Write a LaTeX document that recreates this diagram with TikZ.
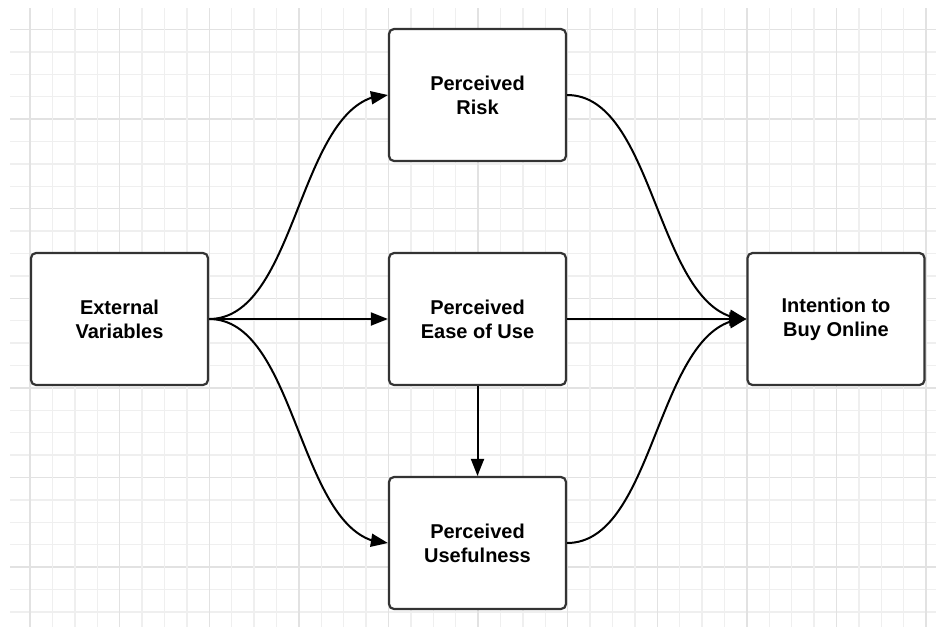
\documentclass[tikz,border=0pt]{standalone}
\usepackage{fontspec}
\setmainfont{Liberation Sans}
\usetikzlibrary{arrows.meta,bending}
\definecolor{gridminor}{HTML}{EFEFEF}
\definecolor{gridmajor}{HTML}{E2E2E2}
\definecolor{boxline}{HTML}{333333}
\begin{document}
\begin{tikzpicture}[x=1pt,y=-1pt,
  box/.style={draw=boxline, line width=2.2pt, rounded corners=5pt, fill=white,
    minimum width=177pt, minimum height=132pt, align=center, inner sep=0pt,
    font=\fontsize{20}{24}\selectfont\bfseries},
  conn/.style={draw=black, line width=2pt, -{Triangle[length=17pt,width=13pt,flex]}},
  gminor/.style={draw=gridminor, line width=1.4pt},
  gmajor/.style={draw=gridmajor, line width=1.4pt}]
\useasboundingbox (0,0) rectangle (936,627);
% grid
\foreach \k in {0,...,26}{
  \pgfmathsetmacro{\yy}{29.4+\k*22.4}
  \pgfmathtruncatemacro{\m}{mod(\k,4)}
  \ifnum\m=0 \draw[gmajor] (10,\yy) -- (936,\yy); \else \draw[gminor] (10,\yy) -- (936,\yy); \fi
}
\foreach \k in {0,...,40}{
  \pgfmathsetmacro{\xx}{30+\k*22.4}
  \pgfmathtruncatemacro{\m}{mod(\k,4)}
  \ifnum\m=0 \draw[gmajor] (\xx,8) -- (\xx,627); \else \draw[gminor] (\xx,8) -- (\xx,627); \fi
}
% nodes
\node[box] (ext) at (119.5,319) {External\\Variables};
\node[box] (risk) at (477.5,95) {Perceived\\Risk};
\node[box] (ease) at (477.5,319) {Perceived\\Ease of Use};
\node[box] (use) at (477.5,543) {Perceived\\Usefulness};
\node[box] (int) at (836,319) {Intention to\\Buy Online};
% connectors
\draw[conn] (ext.east) .. controls +(90,0) and +(-90,0) .. (risk.west);
\draw[conn] (ext.east) -- (ease.west);
\draw[conn] (ext.east) .. controls +(90,0) and +(-90,0) .. (use.west);
\draw[conn] (ease.south) -- (use.north);
\draw[conn] (risk.east) .. controls +(90,0) and +(-90,0) .. (int.west);
\draw[conn] (ease.east) -- (int.west);
\draw[conn] (use.east) .. controls +(90,0) and +(-90,0) .. (int.west);
\end{tikzpicture}
\end{document}
